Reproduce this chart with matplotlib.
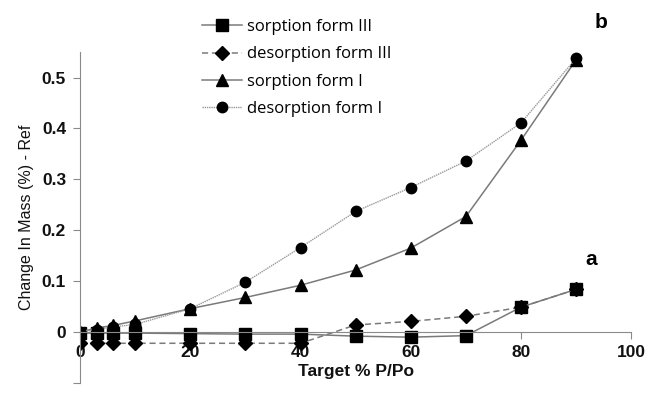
import matplotlib
matplotlib.use("Agg")
import matplotlib.pyplot as plt

# target relative pressure (% P/Po)
x = [0, 3, 6, 10, 20, 30, 40, 50, 60, 70, 80, 90]

# change in mass (%) - ref
sorp_III = [-0.002, -0.002, -0.002, -0.002, -0.003, -0.004, -0.004, -0.008, -0.010, -0.007, 0.049, 0.084]
desorp_III = [-0.022, -0.022, -0.022, -0.022, -0.022, -0.022, -0.022, 0.014, 0.021, 0.031, 0.049, 0.084]
sorp_I = [0.0, 0.008, 0.013, 0.022, 0.046, 0.068, 0.092, 0.122, 0.165, 0.227, 0.377, 0.535]
desorp_I = [0.0, 0.005, 0.010, 0.015, 0.046, 0.098, 0.166, 0.237, 0.284, 0.336, 0.411, 0.538]

xticks = [0, 20, 40, 60, 80, 100]
yticks = [-0.1, 0, 0.1, 0.2, 0.3, 0.4, 0.5]
ylabels = ["", "0", "0.1", "0.2", "0.3", "0.4", "0.5"]

plt.rcParams['font.family'] = ['Liberation Sans', 'DejaVu Sans']
axcol = '#8a8a8a'
lcol = '#7a7a7a'

fig = plt.figure(figsize=(6.54, 4.07), dpi=100)
ax = fig.add_axes([0.1223, 0.059, 0.843, 0.813])

ax.plot(x, sorp_III, color=lcol, lw=1.1, ls='-', marker='s', ms=8,
        mfc='black', mec='black', label='sorption form III')
ax.plot(x, desorp_III, color=lcol, lw=1.1, ls=(0, (4, 2.5)), marker='D', ms=7,
        mfc='black', mec='black', label='desorption form III')
ax.plot(x, sorp_I, color=lcol, lw=1.1, ls='-', marker='^', ms=9,
        mfc='black', mec='black', label='sorption form I')
ax.plot(x, desorp_I, color='#999999', lw=1.0, ls=(0, (1, 0.6)), marker='o', ms=7.5,
        mfc='black', mec='black', label='desorption form I')

ax.set_xlim(0, 100)
ax.set_ylim(-0.1, 0.55)
ax.set_xticks(xticks)
ax.set_yticks(yticks)
ax.set_yticklabels(ylabels)

ax.spines['top'].set_visible(False)
ax.spines['right'].set_visible(False)
ax.spines['bottom'].set_position(('data', 0))
ax.spines['bottom'].set_color(axcol)
ax.spines['left'].set_color(axcol)
ax.tick_params(axis='both', colors=axcol, labelcolor='#111111', labelsize=12.5, length=5)
ax.tick_params(axis='x', pad=4)
ax.tick_params(axis='y', pad=5)
for t in ax.get_xticklabels() + ax.get_yticklabels():
    t.set_fontweight('bold')

ax.set_xlabel('Target % P/Po', fontsize=12.5, fontweight='bold', color='#111111', labelpad=3)
ax.set_ylabel('Change In Mass (%) - Ref', fontsize=11.5, color='#111111', labelpad=6)

ax.text(92.7, 0.142, 'a', fontsize=15, fontweight='bold', ha='center', va='center')
ax.text(94.5, 0.608, 'b', fontsize=15, fontweight='bold', ha='center', va='center', clip_on=False)

leg = ax.legend(loc='upper left', bbox_to_anchor=(0.309, 0.953), bbox_transform=fig.transFigure,
                frameon=False, handlelength=2.4, handletextpad=0.3, labelspacing=0.68,
                borderaxespad=0, borderpad=0, prop={'family': 'Open Sans', 'size': 12})

fig.savefig('out.png', dpi=100)
